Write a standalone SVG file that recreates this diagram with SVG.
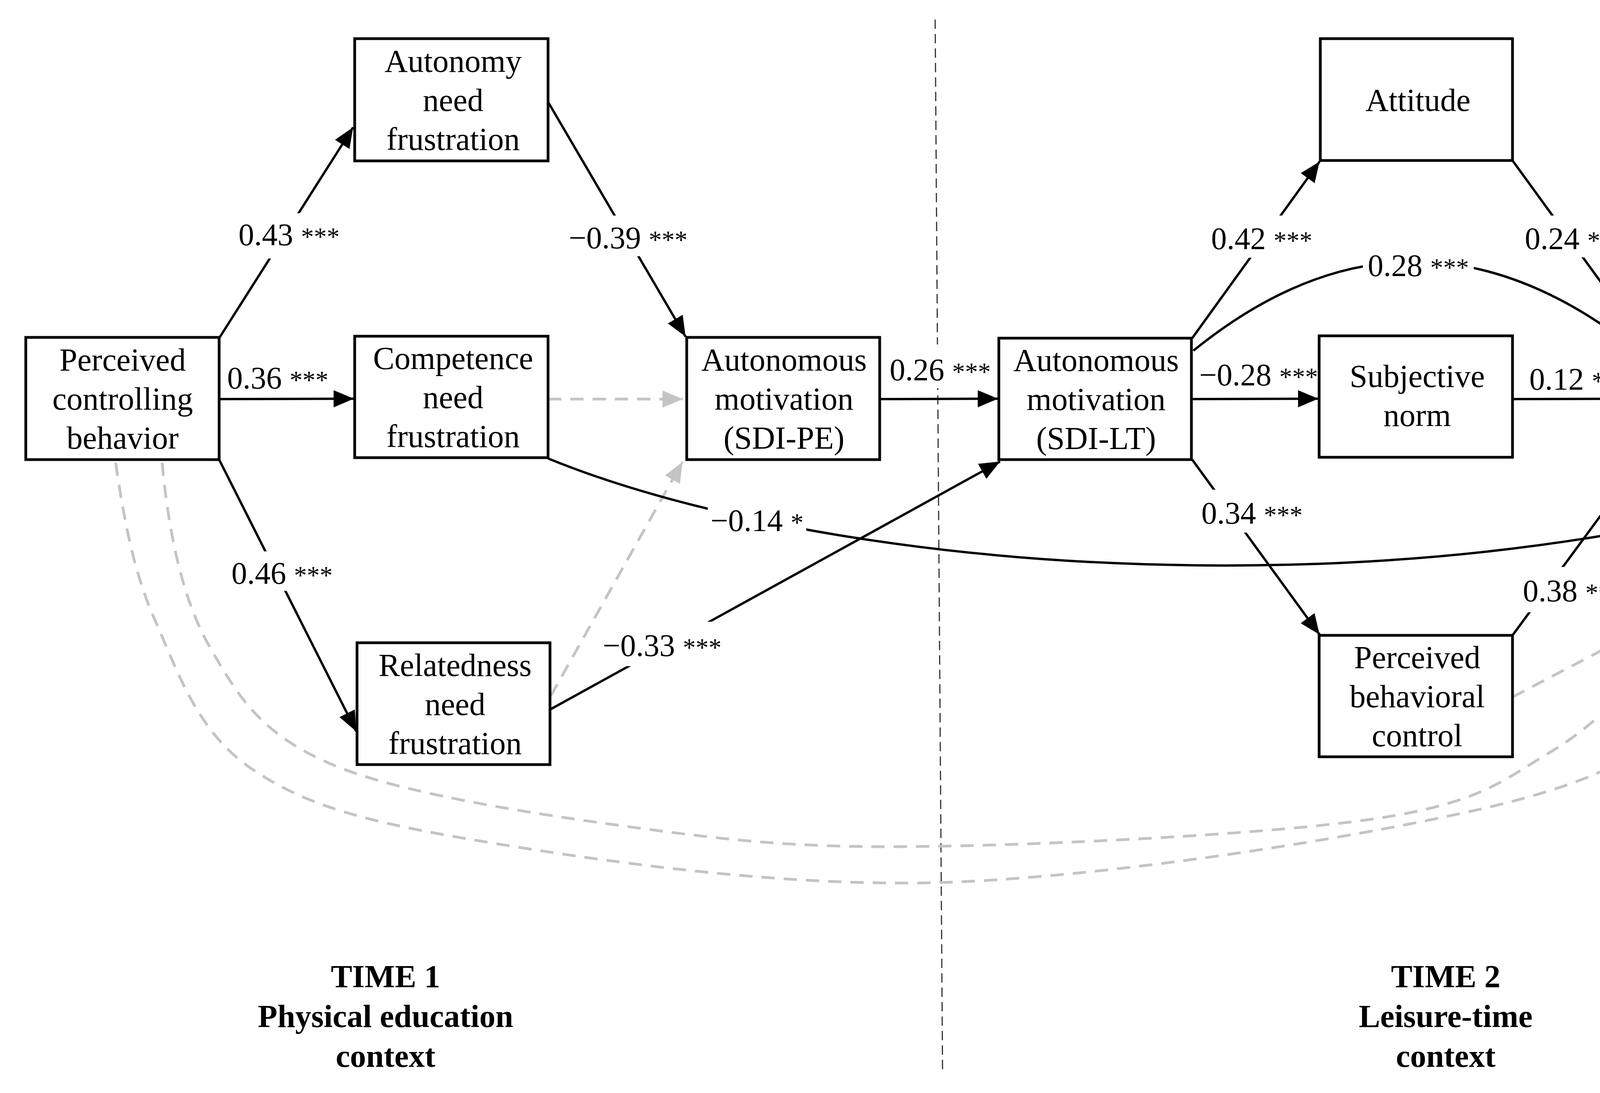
<svg xmlns="http://www.w3.org/2000/svg" width="5720" height="2799" viewBox="0 0 5720 2799">
<style>
.box{fill:#fff;stroke:#000;stroke-width:7}
.nt{font-family:"Liberation Serif","Times New Roman",serif;font-size:82px;fill:#000;text-anchor:middle}
.lb{font-family:"Liberation Serif","Times New Roman",serif;font-size:80px;fill:#000;text-anchor:middle}
.st{font-size:66px}
.tm{font-family:"Liberation Serif","Times New Roman",serif;font-size:82px;font-weight:bold;fill:#000;text-anchor:middle}
.bl{fill:none;stroke:#000;stroke-width:6}
.gr{fill:none;stroke:#c4c4c4;stroke-width:7;stroke-dasharray:34 23}
.vd{fill:none;stroke:#333;stroke-width:3;stroke-dasharray:24 13}
.bg{fill:#fff;stroke:none}
</style>
<defs>
<marker id="ab" markerUnits="userSpaceOnUse" markerWidth="52" markerHeight="44" refX="52" refY="22" orient="auto"><path d="M0,0 L52,22 L0,44 Z" fill="#000"/></marker>
<marker id="ag" markerUnits="userSpaceOnUse" markerWidth="52" markerHeight="44" refX="52" refY="22" orient="auto"><path d="M0,0 L52,22 L0,44 Z" fill="#c4c4c4"/></marker>
</defs>
<rect width="5720" height="2799" fill="#fff"/>
<g id="time-dividers">
<line class="vd" x1="2394" y1="50" x2="2413" y2="2750"/>
<line class="vd" x1="4864" y1="58" x2="4884" y2="2750"/>
</g>
<g id="connectors">
<path class="gr" d="M296,1185 C316,1320 340,1461 398,1591 C456,1722 505,1874 643,1968 C781,2062 931,2104 1225,2153 C1519,2202 1985,2272 2408,2260 C2831,2247 3434,2151 3763,2078 C4092,2005 4174,1942 4380,1821 C4586,1700 4860,1454 4998,1349 L5220,1186" marker-end="url(#ag)"/>
<path class="gr" d="M415,1185 C430,1345 462,1526 536,1655 C610,1784 667,1882 858,1961 C1049,2040 1426,2093 1684,2127 C1942,2161 2100,2172 2408,2167 C2716,2162 3272,2135 3531,2095 C3790,2055 3848,1998 3964,1929 C4080,1860 4159,1777 4226,1680 C4293,1583 4334,1430 4365,1349 L4411,1190" marker-end="url(#ag)"/>
<path class="gr" d="M1403,1022 L1748,1022" marker-end="url(#ag)"/>
<path class="gr" d="M1410,1782 L1747,1183" marker-end="url(#ag)"/>
<path class="gr" d="M4692,1022 L5030,1022" marker-end="url(#ag)"/>
<path class="gr" d="M3872,1785 L5021,1184" marker-end="url(#ag)"/>
<path class="bl" d="M561,866 L904,326" marker-end="url(#ab)"/>
<path class="bl" d="M1403,261 L1755,862" marker-end="url(#ab)"/>
<path class="bl" d="M561,1022 L906,1021" marker-end="url(#ab)"/>
<path class="bl" d="M561,1177 L912,1873" marker-end="url(#ab)"/>
<path class="bl" d="M1410,1816 L2560,1182" marker-end="url(#ab)"/>
<path class="bl" d="M1403,1174 C2200,1500 3900,1600 5030,1110" marker-end="url(#ab)"/>
<path class="bl" d="M2252,1022 L2555,1021" marker-end="url(#ab)"/>
<path class="bl" d="M3052,866 L3378,414" marker-end="url(#ab)"/>
<path class="bl" d="M3055,898 Q3620,440 4197,902" marker-end="url(#ab)"/>
<path class="bl" d="M3050,1022 L3375,1021" marker-end="url(#ab)"/>
<path class="bl" d="M3052,1177 L3378,1625" marker-end="url(#ab)"/>
<path class="bl" d="M3872,411 L4196,857" marker-end="url(#ab)"/>
<path class="bl" d="M3872,1022 L4198,1021" marker-end="url(#ab)"/>
<path class="bl" d="M3872,1627 L4195,1188" marker-end="url(#ab)"/>
</g>
<g id="labels">
<rect class="bg" x="596" y="546" width="288" height="116"/>
<text class="lb" x="740" y="628">0.43 <tspan class="st">***</tspan></text>
<rect class="bg" x="1445" y="552" width="326" height="104"/>
<text class="lb" x="1608" y="636">−0.39 <tspan class="st">***</tspan></text>
<text class="lb" x="711" y="995">0.36 <tspan class="st">***</tspan></text>
<rect class="bg" x="578" y="1412" width="288" height="101"/>
<text class="lb" x="722" y="1495">0.46 <tspan class="st">***</tspan></text>
<rect class="bg" x="1535" y="1592" width="320" height="114"/>
<text class="lb" x="1695" y="1680">−0.33 <tspan class="st">***</tspan></text>
<rect class="bg" x="1812" y="1290" width="252" height="84"/>
<text class="lb" x="1938" y="1360">−0.14 <tspan class="st">*</tspan></text>
<rect class="bg" x="2268" y="882" width="280" height="112"/>
<text class="lb" x="2407" y="974">0.26 <tspan class="st">***</tspan></text>
<rect class="bg" x="3088" y="552" width="284" height="108"/>
<text class="lb" x="3230" y="638">0.42 <tspan class="st">***</tspan></text>
<rect class="bg" x="3489" y="625" width="284" height="100"/>
<text class="lb" x="3631" y="707">0.28 <tspan class="st">***</tspan></text>
<text class="lb" x="3222" y="987">−0.28 <tspan class="st">***</tspan></text>
<rect class="bg" x="3068" y="1254" width="276" height="110"/>
<text class="lb" x="3205" y="1341">0.34 <tspan class="st">***</tspan></text>
<rect class="bg" x="3898" y="552" width="272" height="107"/>
<text class="lb" x="4033" y="638">0.24 <tspan class="st">***</tspan></text>
<text class="lb" x="4028" y="998">0.12 <tspan class="st">**</tspan></text>
<rect class="bg" x="3892" y="1452" width="272" height="116"/>
<text class="lb" x="4028" y="1540">0.38 <tspan class="st">***</tspan></text>
</g>
<g id="node-pcb">
<rect class="box" x="66" y="864" width="495" height="313"/>
<text class="nt" x="314" y="949">Perceived</text>
<text class="nt" x="314" y="1049">controlling</text>
<text class="nt" x="314" y="1149">behavior</text>
</g>
<g id="node-anf">
<rect class="box" x="908" y="99" width="495" height="313"/>
<text class="nt" x="1160" y="184">Autonomy</text>
<text class="nt" x="1160" y="284">need</text>
<text class="nt" x="1160" y="384">frustration</text>
</g>
<g id="node-cnf">
<rect class="box" x="908" y="861" width="495" height="311"/>
<text class="nt" x="1160" y="945">Competence</text>
<text class="nt" x="1160" y="1045">need</text>
<text class="nt" x="1160" y="1145">frustration</text>
</g>
<g id="node-rnf">
<rect class="box" x="914" y="1646" width="494" height="312"/>
<text class="nt" x="1165" y="1731">Relatedness</text>
<text class="nt" x="1165" y="1831">need</text>
<text class="nt" x="1165" y="1931">frustration</text>
</g>
<g id="node-am-pe">
<rect class="box" x="1758" y="864" width="494" height="313"/>
<text class="nt" x="2007" y="949">Autonomous</text>
<text class="nt" x="2007" y="1049">motivation</text>
<text class="nt" x="2007" y="1149">(SDI-PE)</text>
</g>
<g id="node-am-lt">
<rect class="box" x="2557" y="866" width="493" height="311"/>
<text class="nt" x="2806" y="950">Autonomous</text>
<text class="nt" x="2806" y="1050">motivation</text>
<text class="nt" x="2806" y="1150">(SDI-LT)</text>
</g>
<g id="node-attitude">
<rect class="box" x="3380" y="99" width="492" height="312"/>
<text class="nt" x="3630" y="284">Attitude</text>
</g>
<g id="node-sn">
<rect class="box" x="3377" y="860" width="495" height="311"/>
<text class="nt" x="3628" y="991">Subjective</text>
<text class="nt" x="3628" y="1091">norm</text>
</g>
<g id="node-pbc">
<rect class="box" x="3377" y="1627" width="495" height="311"/>
<text class="nt" x="3628" y="1711">Perceived</text>
<text class="nt" x="3628" y="1811">behavioral</text>
<text class="nt" x="3628" y="1911">control</text>
</g>
<g id="node-intention">
<rect class="box" x="4200" y="860" width="492" height="310"/>
<text class="nt" x="4450" y="991">Intention</text>
<text class="nt" x="4450" y="1090">(R² = 0.63)</text>
</g>
<g id="node-pa">
<rect class="box" x="5034" y="864" width="493" height="315"/>
<text class="nt" x="5288" y="950">Physical</text>
<text class="nt" x="5288" y="1050">activity</text>
<text class="nt" x="5295" y="1151">(R² = 0.24)</text>
</g>
<g id="time-labels">
<text class="tm" x="987" y="2528">TIME 1</text>
<text class="tm" x="987" y="2630">Physical education</text>
<text class="tm" x="987" y="2732">context</text>
<text class="tm" x="3701" y="2528">TIME 2</text>
<text class="tm" x="3701" y="2630">Leisure-time</text>
<text class="tm" x="3701" y="2732">context</text>
<text class="tm" x="5328" y="2528">TIME 3</text>
<text class="tm" x="5328" y="2630">Leisure-time physical</text>
<text class="tm" x="5328" y="2732">activity</text>
</g>
</svg>
